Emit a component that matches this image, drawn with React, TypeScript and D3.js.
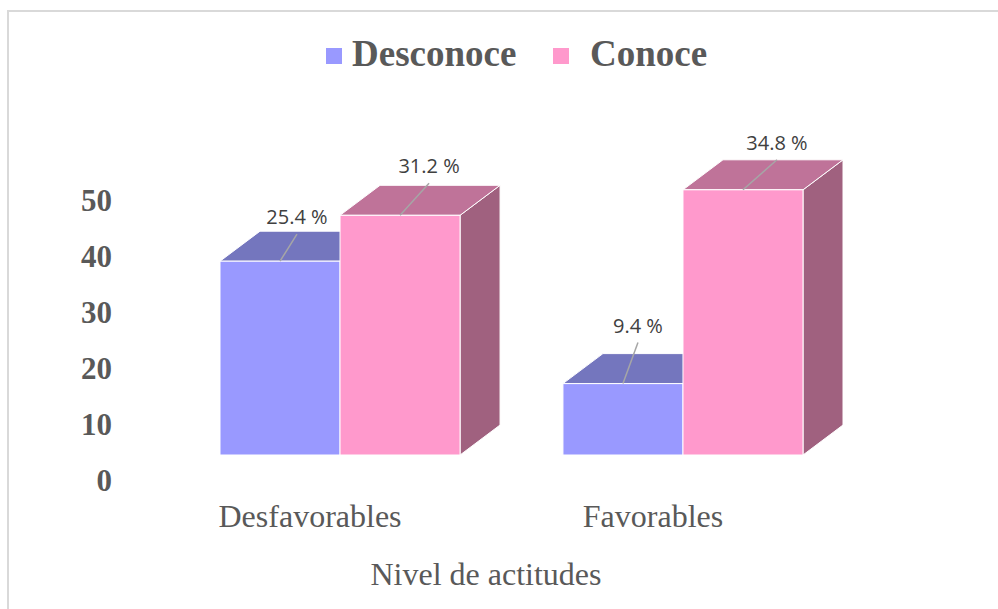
import React, { useRef, useEffect } from 'react';
import * as d3 from 'd3';

const categories = ['Desfavorables', 'Favorables'];
const series = ['Desconoce', 'Conoce'];
const desconoce = [38, 14];
const conoce = [47, 52];
const desconocePct = ['25.4 %', '9.4 %'];
const conocePct = ['31.2 %', '34.8 %'];
const yTicks = [0, 10, 20, 30, 40, 50];

// colores: frente, techo, lateral
const colors: Record<string, string[]> = {
  Desconoce: ['#9999ff', '#7476be', '#5c5c99'],
  Conoce: ['#ff99cc', '#bf7399', '#a0617f'],
};

// desplazamiento de cada etiqueta respecto al centro del borde superior
const labelNudge = [
  [[17, -27], [15, -41]],
  [[29, -32], [34, -30]],
];

const W = 998;
const H = 609;
const depthX = 40;
const depthY = -30;

export default function App() {
  const ref = useRef<SVGSVGElement>(null);

  useEffect(() => {
    const svg = d3.select(ref.current);
    svg.selectAll('*').remove();

    // marco
    svg.append('rect')
      .attr('x', 8).attr('y', 11)
      .attr('width', 1000).attr('height', 610)
      .attr('fill', 'white')
      .attr('stroke', '#d9d9d9')
      .attr('stroke-width', 2);

    const x0 = d3.scaleBand<string>().domain(categories).range([220, 803]).paddingInner(0.3).paddingOuter(0);
    const x1 = d3.scaleBand<string>().domain(series).range([0, x0.bandwidth()]).padding(0);
    const y = d3.scaleLinear().domain([0, 50]).range([455, 200]);
    const yLabel = d3.scaleLinear().domain([0, 50]).range([480, 200]);

    // eje Y (solo etiquetas)
    svg.append('g')
      .selectAll('text')
      .data(yTicks)
      .enter()
      .append('text')
      .attr('x', 112)
      .attr('y', d => yLabel(d))
      .attr('dy', '0.35em')
      .attr('text-anchor', 'end')
      .attr('font-family', '"Liberation Serif", "Times New Roman", serif')
      .attr('font-weight', 'bold')
      .attr('font-size', 31)
      .attr('fill', '#595959')
      .text(d => d);

    const values = [desconoce, conoce];
    const pcts = [desconocePct, conocePct];

    categories.forEach((cat, ci) => {
      const g = svg.append('g');
      series.forEach((s, si) => {
        const v = values[si][ci];
        const xl = (x0(cat) ?? 0) + (x1(s) ?? 0);
        const xr = xl + x1.bandwidth();
        const yt = y(v);
        const yb = y(0);
        const [front, top, side] = colors[s];

        // lateral
        g.append('path')
          .attr('d', `M${xr},${yb}L${xr + depthX},${yb + depthY}L${xr + depthX},${yt + depthY}L${xr},${yt}Z`)
          .attr('fill', side).attr('stroke', 'white').attr('stroke-width', 1);
        // techo
        g.append('path')
          .attr('d', `M${xl},${yt}L${xl + depthX},${yt + depthY}L${xr + depthX},${yt + depthY}L${xr},${yt}Z`)
          .attr('fill', top).attr('stroke', 'white').attr('stroke-width', 1);
        // frente
        g.append('rect')
          .attr('x', xl).attr('y', yt)
          .attr('width', x1.bandwidth()).attr('height', yb - yt)
          .attr('fill', front).attr('stroke', 'white').attr('stroke-width', 1);
      });
    });

    // etiquetas de datos con líneas guía
    const lg = svg.append('g');
    categories.forEach((cat, ci) => {
      series.forEach((s, si) => {
        const v = values[si][ci];
        const cx = (x0(cat) ?? 0) + (x1(s) ?? 0) + x1.bandwidth() / 2;
        const cy = y(v);
        const [nx, ny] = labelNudge[si][ci];
        lg.append('line')
          .attr('x1', cx).attr('y1', cy)
          .attr('x2', cx + nx).attr('y2', cy + ny)
          .attr('stroke', '#a6a6a6').attr('stroke-width', 1.5);
        lg.append('text')
          .attr('x', cx + nx)
          .attr('y', cy + ny - 10)
          .attr('text-anchor', 'middle')
          .attr('font-family', '"Open Sans", "Noto Sans", sans-serif')
          .attr('font-size', 20)
          .attr('fill', '#404040')
          .text(pcts[si][ci]);
      });
    });

    // etiquetas de categoría
    svg.append('g')
      .selectAll('text')
      .data(categories)
      .enter()
      .append('text')
      .attr('x', d => (x0(d) ?? 0) + x0.bandwidth() / 2 - 30)
      .attr('y', 527)
      .attr('text-anchor', 'middle')
      .attr('font-family', '"Liberation Serif", "Times New Roman", serif')
      .attr('font-size', 32)
      .attr('fill', '#595959')
      .text(d => d);

    // título del eje
    svg.append('text')
      .attr('x', 486).attr('y', 585)
      .attr('text-anchor', 'middle')
      .attr('font-family', '"Liberation Serif", "Times New Roman", serif')
      .attr('font-size', 32)
      .attr('fill', '#595959')
      .text('Nivel de actitudes');

    // leyenda
    const legendX = [326, 553];
    const legendTextX = [352, 590];
    const leg = svg.append('g');
    series.forEach((s, i) => {
      leg.append('rect')
        .attr('x', legendX[i]).attr('y', 48)
        .attr('width', 16).attr('height', 16)
        .attr('fill', colors[s][0]);
      leg.append('text')
        .attr('x', legendTextX[i]).attr('y', 66)
        .attr('font-family', '"Liberation Serif", "Times New Roman", serif')
        .attr('font-weight', 'bold')
        .attr('font-size', 37)
        .attr('fill', '#595959')
        .text(s);
    });
  }, []);

  return (
    <svg
      ref={ref}
      width={W}
      height={H}
      style={{ position: 'absolute', left: 0, top: 0, display: 'block', background: 'white' }}
    />
  );
}
